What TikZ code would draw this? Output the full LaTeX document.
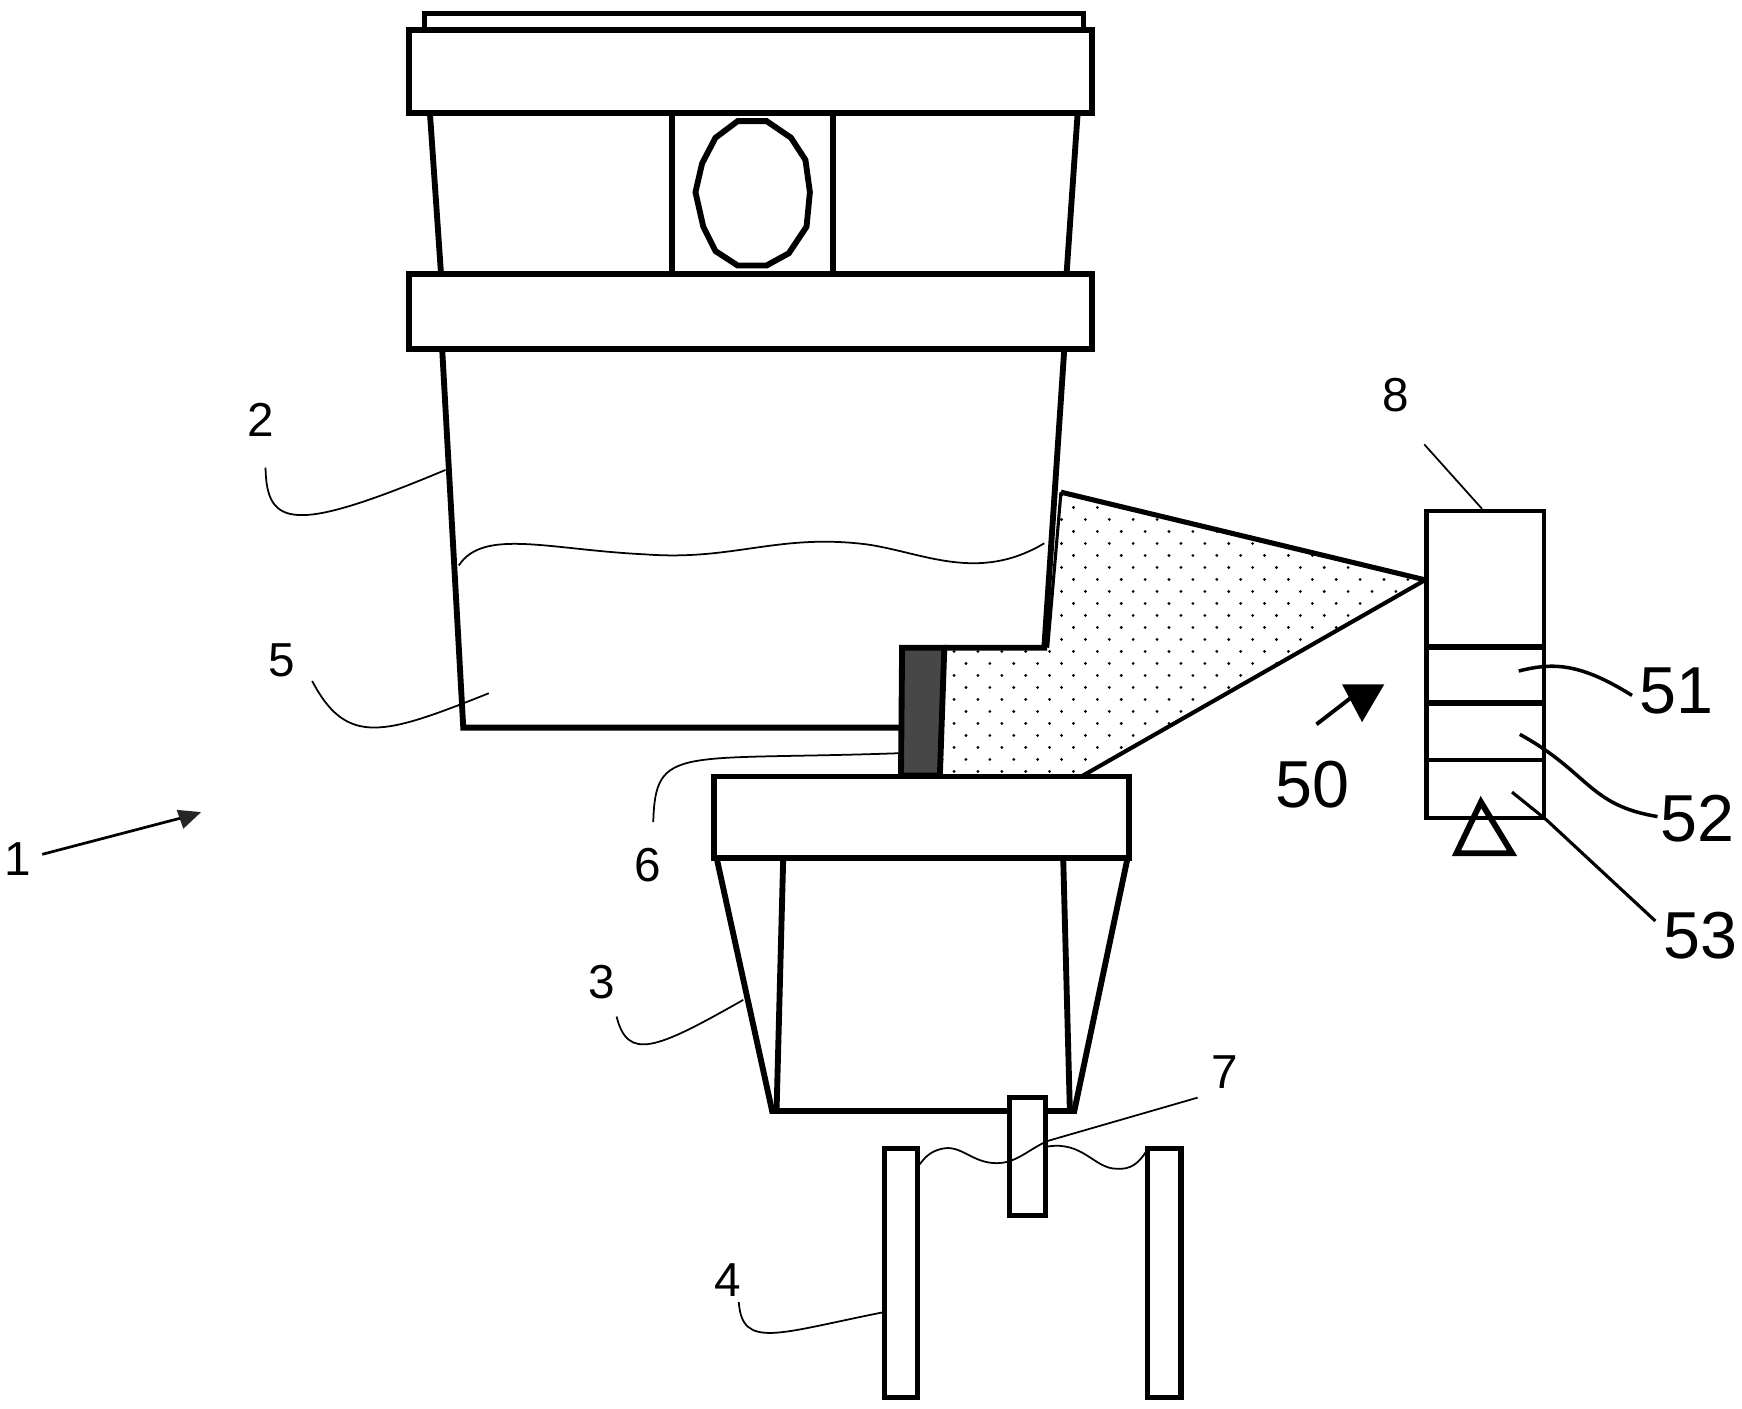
\documentclass[tikz,border=0pt]{standalone}
\usepackage{fontspec}
\setmainfont{Liberation Sans}
\tikzset{
wall/.style={line width=1.5pt,line join=miter},
part/.style={line width=1.3pt,fill=white},
leader/.style={line width=0.45pt},
numlabel/.style={inner sep=0pt,font=\fontsize{12.2}{14}\selectfont},
biglabel/.style={inner sep=0pt,font=\fontsize{17}{20}\selectfont},
}
\begin{document}
\begin{tikzpicture}[x=0.01cm,y=-0.01cm]
\useasboundingbox (0,0) rectangle (1568,1268.2);
\fill [white] (0,0) rectangle (1568,1268.2);

\begin{scope}
\clip (955,443) -- (1283,522) -- (975,698) -- (848,698) -- (850,583) -- (943,583) -- cycle;
\foreach \row in {0,...,24} {
  \pgfmathsetmacro{\rowx}{mod(\row,2)*10.75}
  \foreach \col in {0,...,20} {
    \fill (848+\rowx+\col*21.5,446+\row*10.8) circle (1.4);
  }
}
\end{scope}

\draw [line width=1.3pt] (955,443) -- (1283,522);
\draw [line width=1.05pt] (1283,522) -- (975,698);
\draw [line width=0.8pt] (955,443) -- (943,583);
\draw [wall] (958,314) -- (940,583) -- (850,583);
\draw [wall] (398,314) -- (417,655) -- (812,655);
\draw [wall,fill=black!72] (812,583) -- (850,583) -- (846,698) -- (811,698) -- cycle;

\draw [part] (382,27) -- (382,12) -- (975,12) -- (975,27);
\draw [wall] (387,102) -- (397,247);
\draw [wall] (970,102) -- (960,247);
\draw [wall] (605,102) -- (605,247);
\draw [wall] (750,102) -- (750,247);
\draw [wall] (664,109) -- (690,109) -- (712,124) -- (725,144) -- (729,173) -- (726,204) -- (710,228) -- (690,239) -- (664,239) -- (644,226) -- (633,204) -- (626,173) -- (632,147) -- (644,124) -- cycle;
\draw [wall,fill=white] (368,27) rectangle (983,102);
\draw [wall,fill=white] (368,247) rectangle (983,314);

\draw [wall] (645,772) -- (695,1000) -- (967,1000) -- (1015,772);
\draw [wall] (705,772) -- (699,1000);
\draw [wall] (957,772) -- (963,1000);
\draw [wall,fill=white] (643,699) rectangle (1016,772);

\draw [part] (909,988) rectangle (941,1094);
\draw [part] (796,1034) rectangle (826,1258);
\draw [part] (1033,1034) rectangle (1063,1258);

\draw [part,line width=1.1pt] (1284,460) rectangle (1390,736);
\draw [wall] (1284,582) -- (1390,582);
\draw [wall] (1284,633) -- (1390,633);
\draw [part,line width=1.1pt] (1284,684) -- (1390,684);
\draw [wall,line join=miter] (1333,722) -- (1361,768) -- (1311,768) -- cycle;

\node [numlabel] (lab1) at (16,773) {1};
\node [numlabel] (lab2) at (235,378) {2};
\node [numlabel] (lab3) at (542,884) {3};
\node [numlabel] (lab4) at (655,1152) {4};
\node [numlabel] (lab5) at (254,594) {5};
\node [numlabel] (lab6) at (583,779) {6};
\node [numlabel] (lab7) at (1102,965) {7};
\node [numlabel] (lab8) at (1256,356) {8};
\node [biglabel] (lab50) at (1181,706) {50};
\node [biglabel] (lab51) at (1509,622) {51};
\node [biglabel] (lab52) at (1528,737) {52};
\node [biglabel] (lab53) at (1531,842) {53};

\coordinate (a1s) at (38,769);	\coordinate (a1t) at (168,735);
\coordinate (a50s) at (1185,652);	\coordinate (a50t) at (1220,625);
\coordinate (s2) at (239,421);	\coordinate (t2) at (401,423);
\coordinate (s5) at (281,613);	\coordinate (t5) at (440,624);
\coordinate (s6) at (588,740);	\coordinate (t6) at (809,678);
\coordinate (s3) at (555,915);	\coordinate (t3) at (669,900);
\coordinate (s4) at (665,1172);	\coordinate (t4) at (796,1181);
\coordinate (s7) at (1078,988);	\coordinate (m7) at (897,1047);	\coordinate (t7) at (828,1048);
\coordinate (sw) at (943,1032);	\coordinate (tw) at (1032,1036);
\coordinate (s8) at (1282,400);	\coordinate (t8) at (1334,458);
\coordinate (sb) at (413,509);	\coordinate (mb) at (581,499);	\coordinate (tb) at (940,489);
\coordinate (s51) at (1367,604);	\coordinate (t51) at (1469,626);
\coordinate (s52) at (1368,661);	\coordinate (t52) at (1492,735);
\coordinate (s53) at (1361,713);	\coordinate (t53) at (1490,829);

\draw [line width=0.7pt] (a1s) -- (a1t);
\fill [black!85] (181,731) -- (159,729) -- (165,746) -- cycle;
\draw [line width=1pt] (a50s) -- (a50t);
\fill (1208,616) -- (1246,616) -- (1226,650) -- cycle;

\draw [leader] (s2) .. controls (240,475) and (265,480) .. (t2);
\draw [leader] (s5) .. controls (312,672) and (345,662) .. (t5);
\draw [leader] (s6) .. controls (590,670) and (610,685) .. (t6);
\draw [leader] (s3) .. controls (565,955) and (590,945) .. (t3);
\draw [leader] (s4) .. controls (668,1215) and (700,1200) .. (t4);
\draw [leader] (s7) -- (943,1027) .. controls (925,1035) and (915,1047) .. (m7) .. controls (875,1047) and (865,1030) .. (848,1034) .. controls (838,1036) and (832,1042) .. (t7);
\draw [leader] (sw) .. controls (975,1027) and (985,1052) .. (1005,1052) .. controls (1018,1053) and (1025,1047) .. (tw);
\draw [leader] (s8) -- (t8);
\draw [leader] (sb) .. controls (435,475) and (495,495) .. (mb) .. controls (660,505) and (700,480) .. (780,490) .. controls (830,497) and (880,525) .. (tb);
\draw [line width=0.9pt] (s51) .. controls (1395,597) and (1420,595) .. (t51);
\draw [line width=0.9pt] (s52) .. controls (1430,695) and (1430,725) .. (t52);
\draw [line width=0.8pt] (s53) -- (1392,738) -- (t53);
\end{tikzpicture}
\end{document}
